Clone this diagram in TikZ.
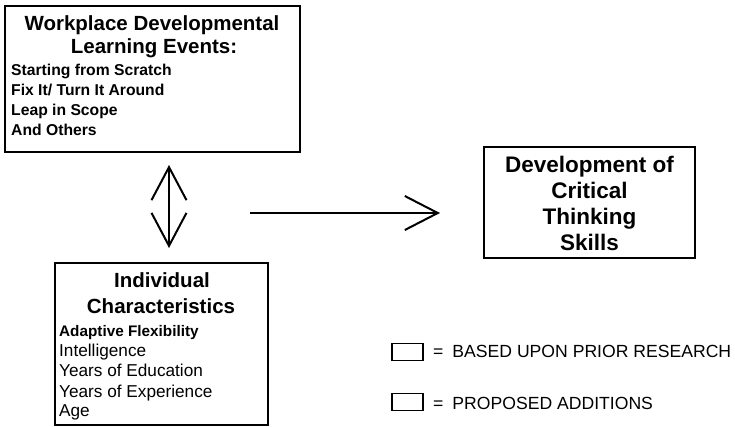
\documentclass[tikz,border=0pt]{standalone}
\usepackage{fontspec}
\setmainfont{Liberation Sans}
\usetikzlibrary{arrows.meta}
\tikzset{
  box/.style={draw=black, line width=1.8bp, inner sep=0pt},
  legbox/.style={draw=black, line width=1.8bp, inner sep=0pt, minimum width=31bp, minimum height=17bp},
  title/.style={anchor=base, inner sep=0pt, font=\bfseries\fontsize{20.5bp}{24bp}\selectfont},
  itemtop/.style={anchor=base west, inner sep=0pt, font=\bfseries\fontsize{15.7bp}{19bp}\selectfont},
  itembot/.style={anchor=base west, inner sep=0pt, font=\fontsize{17.2bp}{20bp}\selectfont},
  itembotb/.style={anchor=base west, inner sep=0pt, font=\bfseries\fontsize{15.3bp}{19bp}\selectfont},
  devtxt/.style={anchor=base, inner sep=0pt, font=\bfseries\fontsize{22.5bp}{26bp}\selectfont},
  legtxt/.style={anchor=base west, inner sep=0pt, font=\fontsize{17.6bp}{20bp}\selectfont},
  barb/.style={line width=2bp, {Straight Barb[length=33bp,width=35bp,line width=2bp]}-{Straight Barb[length=33bp,width=35bp,line width=2bp]}},
  onebarb/.style={line width=2bp, -{Straight Barb[length=33bp,width=34bp,line width=2bp]}}
}
\begin{document}
\begin{tikzpicture}[x=1bp,y=-1bp]
\useasboundingbox (0,0) rectangle (735,426);
% boxes
\node[box, minimum width=295bp, minimum height=146bp] (events) at (152.5,79) {};
\node[box, minimum width=213bp, minimum height=162bp] (indiv) at (161.5,344) {};
\node[box, minimum width=211bp, minimum height=111bp] (dev) at (589.5,202.5) {};
% top box text
\node[title] (t1) at (152,30) {Workplace Developmental};
\node[title] (t2) at (154,53) {Learning Events:};
\node[itemtop] (e1) at (11,75) {Starting from Scratch};
\node[itemtop] (e2) at (11,95) {Fix It/ Turn It Around};
\node[itemtop] (e3) at (11,115) {Leap in Scope};
\node[itemtop] (e4) at (11,135) {And Others};
% bottom box text
\node[title] (i1) at (162,287) {Individual};
\node[title] (i2) at (161,313) {Characteristics};
\node[itembotb] (c1) at (59,336) {Adaptive Flexibility};
\node[itembot] (c2) at (59,356) {Intelligence};
\node[itembot] (c3) at (59,376) {Years of Education};
\node[itembot] (c4) at (59,397) {Years of Experience};
\node[itembot] (c5) at (59,416) {Age};
% right box text
\node[devtxt] (d1) at (589.5,172) {Development of};
\node[devtxt] (d2) at (589.5,198) {Critical};
\node[devtxt] (d3) at (589.5,224) {Thinking};
\node[devtxt] (d4) at (589.5,250) {Skills};
% arrows
\coordinate (dtop) at (169,165);
\coordinate (dbot) at (169,248);
\draw[barb] (dtop) -- (dbot);
\coordinate (rstart) at (250,213);
\coordinate (rend) at (440,213);
\draw[onebarb] (rstart) -- (rend);
% legend
\node[legbox] (l1) at (407.5,352) {};
\node[legbox] (l2) at (407.5,402) {};
\node[legtxt] (lt1) at (433,357) {=\hspace{9bp}BASED UPON PRIOR RESEARCH};
\node[legtxt] (lt2) at (433,409) {=\hspace{9bp}PROPOSED ADDITIONS};
\end{tikzpicture}
\end{document}
